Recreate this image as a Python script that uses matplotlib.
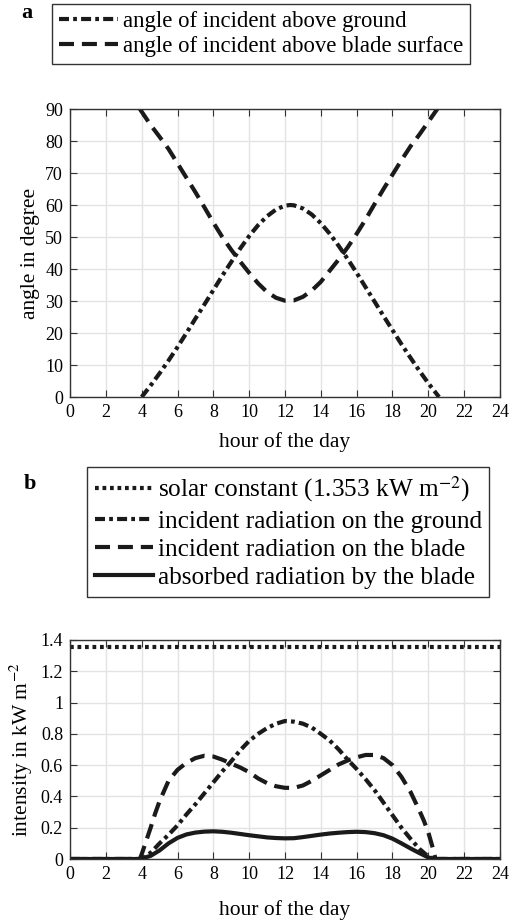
import matplotlib
matplotlib.use('Agg')
import matplotlib.pyplot as plt

plt.rcParams['font.family'] = ['Liberation Serif', 'DejaVu Serif']
plt.rcParams['mathtext.fontset'] = 'stix'

# ---- panel a : angles ----
ground_h = [4.0, 4.5, 5.0, 5.5, 6.0, 6.5, 7.0, 7.5, 8.0, 8.5, 9.0, 9.5, 10.0, 10.5, 11.0, 11.5,
            12.0, 12.3, 12.5, 13.0, 13.5, 14.0, 14.5, 15.0, 15.5, 16.0, 16.5, 17.0, 17.5, 18.0,
            18.5, 19.0, 19.5, 20.0, 20.5, 20.6]
ground_ang = [0, 3.6, 7.4, 11.4, 15.6, 20.0, 24.5, 28.9, 33.4, 37.9, 42.2, 46.4, 50.3, 53.7, 56.5, 58.6,
              59.8, 60.0, 59.9, 58.9, 57.0, 54.3, 51.0, 47.2, 43.1, 38.8, 34.3, 29.8, 25.3, 20.9,
              16.5, 12.3, 8.2, 4.3, 0.7, 0]

blade_h = [3.9, 4.5, 5.0, 5.5, 6.0, 6.5, 7.0, 7.5, 8.0, 8.5, 9.0, 9.5, 10.0, 10.5, 11.0, 11.5,
           12.0, 12.5, 13.0, 13.5, 14.0, 14.5, 15.0, 15.5, 16.0, 16.5, 17.0, 17.5, 18.0, 18.5,
           19.0, 19.5, 20.0, 20.5]
blade_ang = [90, 85, 81.3, 77.5, 73, 68.5, 64, 59.3, 54.5, 50, 46, 42.3, 38.8, 35.5, 32.8, 31,
             30.1, 30.2, 31.3, 33.3, 36, 39.5, 43, 46.8, 51, 55.5, 60.3, 65, 69.5, 74,
             78.3, 82, 86, 90]

# ---- panel b : radiation ----
solar_const = 1.353

rg_h = [0, 4.0, 4.5, 5.0, 5.5, 6.0, 6.5, 7.0, 7.5, 8.0, 8.5, 9.0, 9.5, 10.0, 10.5, 11.0, 11.5,
        12.0, 12.5, 13.0, 13.5, 14.0, 14.5, 15.0, 15.5, 16.0, 16.5, 17.0, 17.5, 18.0, 18.5,
        19.0, 19.5, 20.0, 20.3, 24]
rg_val = [0, 0, 0.04, 0.10, 0.155, 0.215, 0.285, 0.35, 0.42, 0.49, 0.56, 0.625, 0.695, 0.755, 0.80, 0.837, 0.865,
          0.882, 0.878, 0.865, 0.84, 0.80, 0.757, 0.70, 0.635, 0.575, 0.51, 0.44, 0.36, 0.28, 0.20,
          0.13, 0.065, 0.015, 0, 0]

rb_h = [0, 3.9, 4.0, 4.25, 4.5, 4.75, 5.0, 5.5, 6.0, 6.5, 7.0, 7.5, 8.0, 8.5, 9.0, 9.5, 10.0, 10.5,
        11.0, 11.5, 12.0, 12.5, 13.0, 13.5, 14.0, 14.5, 15.0, 15.5, 16.0, 16.5, 17.0, 17.5, 18.0,
        18.5, 19.0, 19.5, 19.75, 20.0, 20.25, 20.4, 24]
rb_val = [0, 0, 0.03, 0.115, 0.20, 0.29, 0.37, 0.50, 0.57, 0.615, 0.645, 0.66, 0.655, 0.635, 0.61, 0.585, 0.555, 0.515,
          0.485, 0.465, 0.455, 0.455, 0.47, 0.50, 0.535, 0.57, 0.605, 0.63, 0.65, 0.665, 0.665, 0.645, 0.60,
          0.525, 0.43, 0.31, 0.245, 0.17, 0.07, 0, 0]

ab_h = [0, 3.9, 4.5, 5.0, 5.5, 6.0, 6.5, 7.0, 7.5, 8.0, 8.5, 9.0, 9.5, 10.0, 10.5, 11.0, 11.5,
        12.0, 12.5, 13.0, 13.5, 14.0, 14.5, 15.0, 15.5, 16.0, 16.5, 17.0, 17.5, 18.0, 18.5,
        19.0, 19.5, 20.0, 20.3, 24]
ab_val = [0, 0, 0.02, 0.055, 0.10, 0.135, 0.157, 0.169, 0.175, 0.177, 0.174, 0.168, 0.16, 0.152, 0.145, 0.138, 0.134,
          0.132, 0.133, 0.14, 0.148, 0.156, 0.163, 0.168, 0.172, 0.174, 0.172, 0.165, 0.152, 0.13, 0.10,
          0.068, 0.038, 0.01, 0, 0]

lw = 3
dashdot = [2.4, 1.0, 0.9, 1.0]
dashed = [3.6, 1.9]
dotted = [0.9, 0.9]
lc = '#1a1a1a'

fig = plt.figure(figsize=(5.17, 9.24), dpi=100)


def style_axes(ax):
    ax.grid(True, color='#e3e3e3', lw=1)
    ax.set_axisbelow(True)
    ax.tick_params(direction='in', top=True, right=True, labelsize=13, length=5,
                   color='#333333', pad=5)
    for s in ax.spines.values():
        s.set_color('#333333')
        s.set_linewidth(1)
    ax.set_xlim(0, 24)
    ax.set_xticks(range(0, 25, 2))


ax1 = fig.add_axes([70 / 517, 1 - 397 / 924, 430 / 517, 288 / 924])
l1, = ax1.plot(ground_h, ground_ang, color=lc, lw=lw, dashes=dashdot, dash_capstyle='butt')
l2, = ax1.plot(blade_h, blade_ang, color=lc, lw=lw, dashes=dashed, dash_capstyle='butt')
style_axes(ax1)
ax1.set_ylim(0, 90)
ax1.set_yticks(range(0, 91, 10))
ax1.set_xlabel('hour of the day', fontsize=15.5, labelpad=8)
ax1.set_ylabel('angle in degree', fontsize=15.5, labelpad=4)

fig.legend([l1, l2], ['angle of incident above ground', 'angle of incident above blade surface'],
           loc='upper left', bbox_to_anchor=(52 / 517, 1 - 4 / 924), borderaxespad=0,
           fontsize=16.4, handlelength=2.6, handletextpad=0.2, labelspacing=0.2,
           borderpad=0.3, fancybox=False, framealpha=1, edgecolor='#333333')
fig.text(27 / 517, 1 - 13 / 924, 'a', fontsize=16, fontweight='bold', ha='center', va='center')

ax2 = fig.add_axes([70 / 517, 1 - 859 / 924, 430 / 517, 219 / 924])
m1 = ax2.axhline(solar_const, color=lc, lw=lw, dashes=dotted, dash_capstyle='butt')
m2, = ax2.plot(rg_h, rg_val, color=lc, lw=lw, dashes=dashdot, dash_capstyle='butt')
m3, = ax2.plot(rb_h, rb_val, color=lc, lw=lw, dashes=dashed, dash_capstyle='butt')
m4, = ax2.plot(ab_h, ab_val, color=lc, lw=lw)
style_axes(ax2)
ax2.set_ylim(0, 1.4)
ax2.set_yticks([0, 0.2, 0.4, 0.6, 0.8, 1, 1.2, 1.4])
ax2.set_yticklabels(['0', '0.2', '0.4', '0.6', '0.8', '1', '1.2', '1.4'])
ax2.set_xlabel('hour of the day', fontsize=15.5, labelpad=12)
ax2.set_ylabel('intensity in kW m$^{-2}$', fontsize=15.5, labelpad=4)

fig.legend([m1, m2, m3, m4],
           ['solar constant (1.353 kW m$^{-2}$)', 'incident radiation on the ground',
            'incident radiation on the blade', 'absorbed radiation by the blade'],
           loc='upper left', bbox_to_anchor=(87 / 517, 1 - 467 / 924), borderaxespad=0,
           fontsize=18.2, handlelength=2.3, handletextpad=0.2, labelspacing=0.22,
           borderpad=0.3, fancybox=False, framealpha=1, edgecolor='#333333')
fig.text(30 / 517, 1 - 484 / 924, 'b', fontsize=16, fontweight='bold', ha='center', va='center')

fig.savefig('out.png', dpi=100)
